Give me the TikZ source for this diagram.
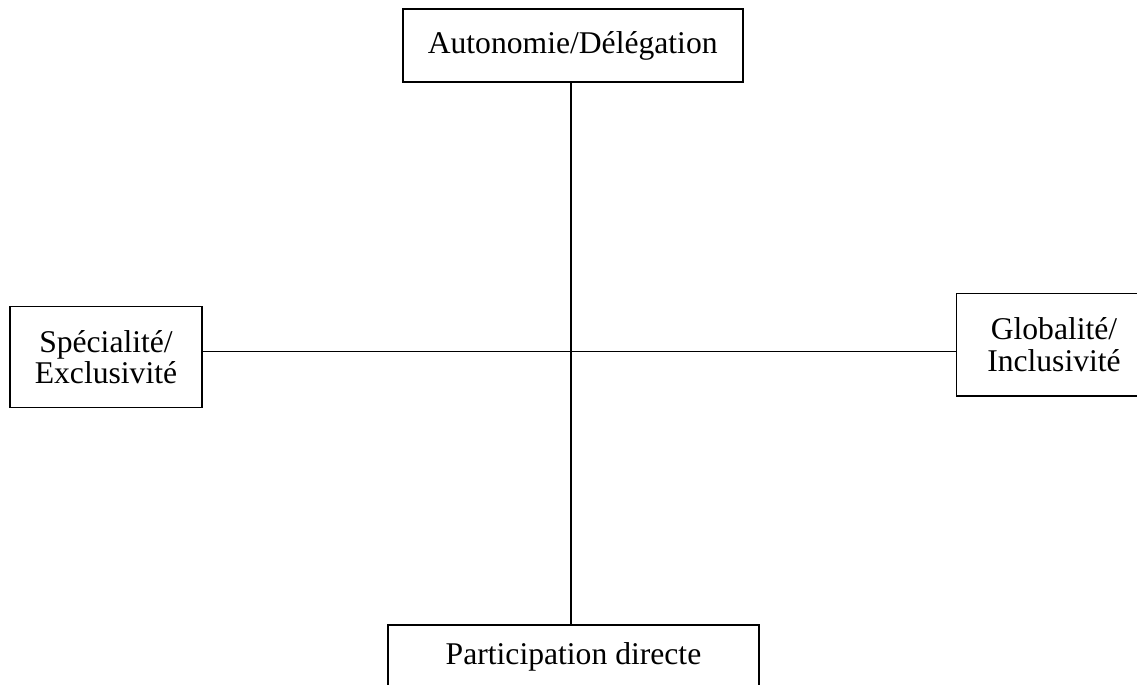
\documentclass[tikz,border=0pt]{standalone}
\usepackage{fontspec}
\setmainfont{Liberation Serif}
\usetikzlibrary{positioning}

\begin{document}
\begin{tikzpicture}[x=0.02cm,y=-0.02cm,line width=1.1pt,
                    axis box/.style={draw,align=center,inner sep=0pt,
                                     font=\fontsize{18}{18}\selectfont}]
                \useasboundingbox (0,0) rectangle (1137,684);
                \node[axis box,minimum width=6.8cm,minimum height=1.46cm] (auto) at (572.7,45.5) {Autonomie/Délégation};
                \node[axis box,minimum width=3.84cm,minimum height=2.02cm] (spec) at (106,357) {Spécialité/\\Exclusivité};
                \node[axis box,minimum width=3.9cm,minimum height=2.05cm] (glob) at (1054,344.7) {Globalité/\\Inclusivité};
                \node[axis box,minimum width=7.41cm,minimum height=1.28cm] (part) at (573.5,657) {Participation directe};
                \coordinate (c) at (571,351.5);
                \draw (auto.south -| c) -- (part.north -| c);
                \draw (spec.east |- c) -- (glob.west |- c);
\end{tikzpicture}
\end{document}
